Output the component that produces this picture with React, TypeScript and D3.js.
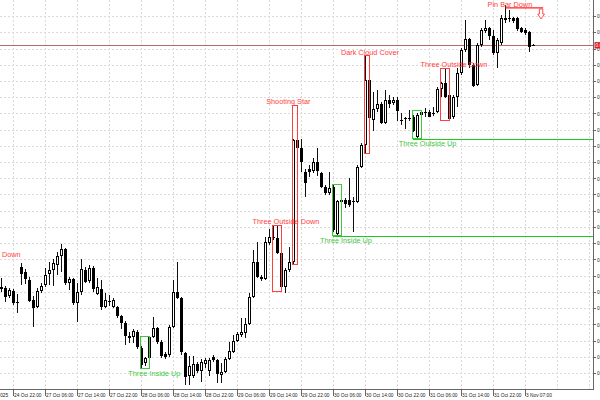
import React from 'react';
import * as d3 from 'd3';

// Prices are stored in points (1 point = 0.00001)
const POINT = 0.00001;

const opens = [
  65102, 65101, 65093, 65098, 65087, 65122, 65117, 65109, 65089, 65082,
  65098, 65104, 65115, 65119, 65124, 65133, 65140, 65106, 65110, 65086,
  65097, 65119, 65108, 65121, 65095, 65100, 65082, 65088.5, 65082.5, 65082.5,
  65073, 65066, 65053, 65052, 65057, 65041.5, 65026, 65031, 65052, 65061,
  65047.5, 65035, 65034, 65062, 65097, 65091, 65036, 65013, 65013, 65025,
  65018.5, 65025, 65018.5, 65032, 65029.5, 65014, 65017.5, 65030.5, 65037.5, 65048,
  65054, 65056.5, 65065, 65092, 65127, 65112, 65110, 65146, 65152, 65151,
  65136, 65102, 65119, 65127, 65249, 65241, 65217, 65220, 65218, 65227.5,
  65216, 65202, 65196, 65202, 65155, 65187.5, 65189, 65189, 65188, 65187,
  65222, 65244, 65309, 65269, 65280, 65285.5, 65266.5, 65289.5, 65286, 65289.5,
  65269, 65271, 65271, 65272.5, 65252.5, 65274, 65277.3, 65277.3, 65275, 65277.3,
  65299.7, 65305.7, 65294, 65272.3, 65292.3, 65316.3, 65339, 65349.7, 65324, 65304,
  65344, 65358, 65361, 65353, 65336, 65345.7, 65369, 65369.7, 65370.7, 65370.7,
  65360.7, 65359, 65357.3, 65344,
];
const highs = [
  65111, 65103, 65101, 65100, 65095, 65126, 65120, 65112, 65093, 65101,
  65106, 65121, 65127, 65130, 65137, 65145, 65141, 65112, 65111, 65106,
  65130, 65122, 65124, 65123, 65111, 65109, 65096, 65094, 65091, 65083,
  65074, 65068, 65057, 65060, 65059, 65043, 65032.5, 65053, 65072, 65062.5,
  65049, 65037, 65064, 65109, 65127, 65092, 65037, 65033, 65033, 65027.5,
  65030, 65031, 65031, 65034, 65030.5, 65026, 65032.5, 65047, 65054, 65057,
  65071, 65071, 65096, 65139, 65147, 65114, 65152, 65160, 65163, 65163,
  65137, 65121, 65142, 65250, 65284, 65250, 65220, 65224, 65231, 65241,
  65217.5, 65204, 65217, 65204.5, 65189, 65204, 65191, 65211, 65192, 65224,
  65246, 65333, 65310, 65297, 65299, 65287.5, 65299, 65294, 65292.5, 65292.5,
  65276, 65272.5, 65279, 65274, 65275.7, 65278.3, 65280.7, 65279, 65282.3, 65301.7,
  65307.3, 65320.7, 65295, 65294, 65320.7, 65340.7, 65369, 65350.7, 65325.7, 65346.3,
  65360.7, 65369, 65362.3, 65359, 65351, 65374, 65384, 65379, 65372.3, 65372.3,
  65362.3, 65360.7, 65358.3, 65345,
];
const lows = [
  65097, 65087, 65091, 65084, 65076, 65104, 65105, 65087, 65062, 65081,
  65096, 65102, 65104, 65103, 65114, 65117, 65104, 65099, 65084, 65067,
  65094, 65106, 65106, 65097, 65094, 65079, 65081, 65083, 65081.5, 65071,
  65060, 65044, 65046, 65046, 65040, 65021, 65023.5, 65030, 65051, 65045.5,
  65031, 65030.5, 65032, 65061, 65090, 65034, 65004, 65004, 65011, 65016,
  65007, 65021, 65013, 65027, 65006, 65006, 65016, 65029, 65036, 65047,
  65052, 65051, 65064, 65091, 65111, 65108.5, 65109, 65144, 65149, 65135,
  65098, 65096, 65117, 65125, 65238, 65217, 65192, 65212, 65216, 65213,
  65201, 65194, 65194, 65157, 65153.5, 65177, 65181, 65182, 65157, 65186,
  65221, 65236, 65269, 65258, 65277, 65265.5, 65265, 65281, 65284, 65268.5,
  65264, 65260, 65268, 65257, 65250.7, 65273, 65272.3, 65271.7, 65273, 65275.7,
  65292.3, 65290.7, 65269, 65269.7, 65282.3, 65314, 65337.3, 65320.7, 65302.3, 65303,
  65342.3, 65356, 65349, 65334, 65320.7, 65344, 65366, 65367.3, 65366.3, 65358.3,
  65355.7, 65354, 65337.3, 65343,
];
const closes = [
  65100, 65092, 65099, 65086, 65086.5, 65115, 65110, 65088, 65081, 65098,
  65103.5, 65114, 65119, 65126, 65133, 65140, 65106, 65110, 65086, 65097,
  65120, 65107, 65121, 65100, 65102, 65082, 65089, 65087.5, 65089.5, 65073,
  65066, 65053, 65051, 65058, 65042, 65024, 65031, 65052, 65061, 65047,
  65033, 65032, 65062, 65097, 65091, 65037, 65012, 65023, 65025.5, 65018.5,
  65027, 65029, 65029.5, 65029.5, 65015, 65017, 65030.5, 65038, 65048, 65055,
  65057, 65065, 65092, 65127, 65112, 65110, 65147, 65152, 65151, 65136,
  65102, 65119.5, 65127, 65249, 65241, 65227, 65206, 65217.5, 65227, 65218,
  65202.5, 65196, 65201.5, 65159, 65188, 65189.5, 65185, 65184, 65187.5, 65222,
  65244, 65309, 65271, 65280, 65285.5, 65266.5, 65289.5, 65285, 65289, 65278.5,
  65268.5, 65270.5, 65271.5, 65258.5, 65274, 65277.3, 65275.7, 65272.3, 65276, 65299.7,
  65305.7, 65291.7, 65269.7, 65291.7, 65316.3, 65339, 65349.7, 65324, 65303, 65344,
  65359, 65361, 65353, 65336, 65349, 65370.7, 65370.7, 65371.5, 65368.3, 65359.7,
  65357.3, 65355.7, 65342.3, 65343.7,
];

// Time axis (bar index of each label)
const timeTickIndex = [-5, 3, 11, 19, 27, 35, 43, 51, 59, 67, 75, 83, 91, 99, 107, 115, 123, 131];
const timeTickLabels = [
  '24 Oct 2025', '24 Oct 22:00', '27 Oct 06:00', '27 Oct 14:00', '27 Oct 22:00',
  '28 Oct 06:00', '28 Oct 14:00', '28 Oct 22:00', '29 Oct 06:00', '29 Oct 14:00',
  '29 Oct 22:00', '30 Oct 06:00', '30 Oct 14:00', '30 Oct 22:00', '31 Oct 06:00',
  '31 Oct 14:00', '31 Oct 22:00', '3 Nov 07:00',
];
const timeGridIndex = [3, 11, 19, 27, 35, 43, 51, 59, 67, 75, 83, 91, 99, 107, 115, 123, 131, 139, 147];

// Price axis ticks (points)
const priceTicks = [
  65372.5, 65356.3, 65340.0, 65323.8, 65307.6, 65291.4, 65275.1, 65258.9, 65242.7, 65226.4,
  65210.2, 65194.0, 65177.7, 65161.5, 65145.3, 65129.1, 65112.8, 65096.6, 65080.4, 65064.1,
  65047.9, 65031.7, 65015.4,
];

// Candlestick pattern annotations
const annLabels = [
  'Three Outside Down', 'Three Inside Up', 'Three Outside Down', 'Shooting Star',
  'Three Inside Up', 'Dark Cloud Cover', 'Three Outside Up', 'Three Outside Down',
];
const annBullish = [false, true, false, false, true, false, true, false];
const annStart = [-6, 35, 68, 73, 83, 91, 103, 110];
const annEnd = [-4, 37, 70, 74, 85, 92, 105, 112];
const annTop = [65130.5, 65053, 65164, 65284, 65205, 65333, 65278.3, 65320.7];
const annBottom = [65095, 65020.7, 65097.3, 65125, 65154, 65235.7, 65250.7, 65269];
const annLabelAt = [-3.6, 38.2, 71.1, 71.7, 86.1, 92.1, 106.5, 113.1];
const annExtend = [false, false, false, false, true, false, true, false];

// Pin bar annotation
const pinBarLabel = 'Pin Bar Down';
const pinBarIndex = 126;
const pinBarLineEnd = 135.4;
const pinBarLevel = 65381.2;
const pinBarLabelAt = 127.1;
const pinArrowAt = 134.9;
const pinArrowTop = 65380;
const pinArrowBottom = 65370;

const RED = '#ff4040';
const GREEN = '#3ec83e';
const LINE_GREEN = '#22c822';
const FONT = '"Liberation Sans", Arial, sans-serif';

export default function App() {
  const W = 600;
  const H = 400;
  const axisX = 593.5;
  const axisY = 389.5;
  const x = d3.scaleLinear().domain([0, 133]).range([1.5, 533.5]);
  const y = d3.scaleLinear().domain([65000, 65389]).range([389, 0]);
  const lastClose = closes[closes.length - 1];
  const fmt = (p: number) => (p * POINT).toFixed(5);
  const half = (v: number) => Math.round(v - 0.5) + 0.5;

  const ax = x(pinArrowAt);
  const aT = y(pinArrowTop);
  const aB = y(pinArrowBottom);
  const aM = (aT + aB) / 2;
  const arrowPath = `M${ax - 1.7},${aT} L${ax + 1.7},${aT} L${ax + 1.7},${aM} L${ax + 3.4},${aM} L${ax},${aB} L${ax - 3.4},${aM} L${ax - 1.7},${aM} Z`;

  return (
    <svg
      width={W}
      height={H}
      style={{ position: 'fixed', left: 0, top: 0, background: '#fff' }}
      fontFamily={FONT}
    >
      <rect x={0} y={0} width={W} height={H} fill="#fff" />
      {/* grid */}
      <g stroke="#dadada" strokeDasharray="2,2" shapeRendering="crispEdges">
        {priceTicks.map((p, k) => (
          <line key={'h' + k} x1={0} x2={axisX} y1={half(y(p))} y2={half(y(p))} />
        ))}
        {timeGridIndex.map((t, k) => (
          <line key={'v' + k} x1={x(t)} x2={x(t)} y1={0} y2={axisY} />
        ))}
      </g>
      {/* current price line */}
      <line
        x1={0}
        x2={axisX}
        y1={half(y(lastClose))}
        y2={half(y(lastClose))}
        stroke="#b86868"
        strokeWidth={1}
        shapeRendering="crispEdges"
      />
      {/* candles */}
      <g shapeRendering="crispEdges">
        {opens.map((o, i) => {
          const c = closes[i];
          const cx = x(i);
          const yTop = y(Math.max(o, c));
          const yBot = y(Math.min(o, c));
          const bodyH = Math.max(1, yBot - yTop);
          const bull = c > o;
          return (
            <g key={i}>
              <line x1={cx} x2={cx} y1={y(highs[i])} y2={y(lows[i])} stroke="#111" />
              <rect x={cx - 1.5} y={yTop} width={3} height={bodyH} fill="#000" />
              {bull && bodyH > 2 && (
                <rect x={cx - 0.5} y={yTop + 1} width={1} height={bodyH - 2} fill="#fff" />
              )}
            </g>
          );
        })}
      </g>
      {/* pattern boxes, lines and labels */}
      {annLabels.map((lab, k) => {
        const col = annBullish[k] ? GREEN : RED;
        const left = x(annStart[k]) - 1;
        const right = x(annEnd[k]);
        const top = half(y(annTop[k]));
        const bottom = half(y(annBottom[k]));
        const ly = annBullish[k] ? y(annBottom[k]) + 7.5 : y(annTop[k]) - 1.5;
        return (
          <g key={'a' + k}>
            {annExtend[k] && (
              <line
                x1={left}
                x2={axisX}
                y1={bottom + 1}
                y2={bottom + 1}
                stroke={LINE_GREEN}
                strokeWidth={1}
                shapeRendering="crispEdges"
              />
            )}
            <rect
              x={left}
              y={top}
              width={right - left}
              height={bottom - top}
              fill="none"
              stroke={col}
              strokeWidth={1}
              shapeRendering="crispEdges"
            />
            <text x={x(annLabelAt[k])} y={ly} fontSize={7.3} fill={col} textAnchor="middle">
              {lab}
            </text>
          </g>
        );
      })}
      {/* pin bar */}
      <line
        x1={x(pinBarIndex)}
        x2={x(pinBarLineEnd)}
        y1={y(pinBarLevel)}
        y2={y(pinBarLevel)}
        stroke="#ff2020"
        strokeWidth={1.3}
      />
      <text x={x(pinBarLabelAt)} y={y(pinBarLevel) - 1.1} fontSize={7.3} fill={RED} textAnchor="middle">
        {pinBarLabel}
      </text>
      <path d={arrowPath} fill="#fff" stroke="#ff5050" strokeWidth={1} />
      {/* axes */}
      <g stroke="#666" shapeRendering="crispEdges">
        <line x1={axisX} x2={axisX} y1={0} y2={axisY} />
        <line x1={0} x2={axisX} y1={axisY} y2={axisY} />
        {priceTicks.map((p, k) => (
          <line key={'yt' + k} x1={axisX} x2={axisX + 2.5} y1={half(y(p))} y2={half(y(p))} />
        ))}
        {timeTickIndex.map((t, k) => (
          <line key={'xt' + k} x1={x(t) - 0.5} x2={x(t) - 0.5} y1={axisY} y2={axisY + 6} />
        ))}
      </g>
      <g fontSize={4.8} fill="#222">
        {priceTicks.map((p, k) => (
          <text key={'yl' + k} x={axisX + 3.5} y={y(p) + 1.7}>
            {fmt(p)}
          </text>
        ))}
        {timeTickLabels.map((lab, k) => (
          <text key={'xl' + k} x={x(timeTickIndex[k]) + 0.5} y={396.5}>
            {lab}
          </text>
        ))}
      </g>
      {/* current price tag on axis */}
      <rect x={axisX + 1} y={y(lastClose) - 3.2} width={12} height={6.4} fill="#e02020" />
      <text x={axisX + 2} y={y(lastClose) + 1.7} fontSize={4.8} fill="#fff">
        {fmt(lastClose)}
      </text>
    </svg>
  );
}
